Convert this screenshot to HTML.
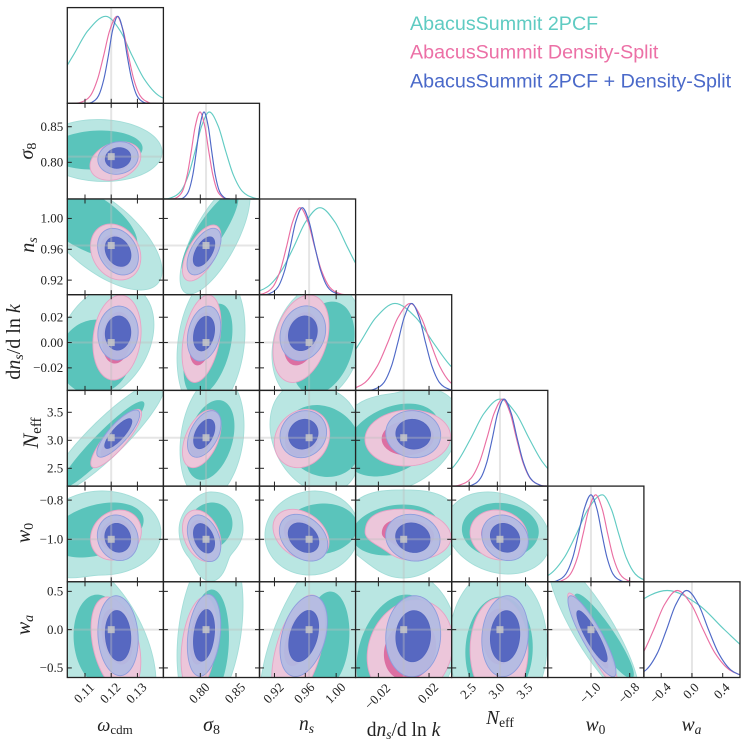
<!DOCTYPE html>
<html lang="en">
<head>
<meta charset="utf-8">
<title>AbacusSummit triangle plot</title>
<style>
html,body{margin:0;padding:0;background:#fff}
svg{display:block}
text{font-family:"Liberation Serif",serif;fill:#222}
.lg{font-family:"Liberation Sans",sans-serif;font-size:19.7px}
</style>
</head>
<body>
<svg id="chart" width="748" height="748" viewBox="0 0 748 748" xmlns="http://www.w3.org/2000/svg">
  <g id="panels"></g>
  <g id="labels">
    <text x="115" y="731" font-size="18.5" text-anchor="middle"><tspan font-style="italic">ω</tspan><tspan font-size="13" dy="3">cdm</tspan></text>
    <text x="211.5" y="731" font-size="20" text-anchor="middle"><tspan font-style="italic">σ</tspan><tspan font-size="14" dy="3">8</tspan></text>
    <text x="306.5" y="730" font-size="19.5" text-anchor="middle"><tspan font-style="italic">n</tspan><tspan font-size="13.5" font-style="italic" dy="3">s</tspan></text>
    <text x="403.5" y="736" font-size="19.5" text-anchor="middle">d<tspan font-style="italic">n</tspan><tspan font-size="13.5" font-style="italic" dy="3">s</tspan><tspan dy="-3">/d ln </tspan><tspan font-style="italic">k</tspan></text>
    <text x="500" y="724" font-size="19.5" text-anchor="middle"><tspan font-style="italic">N</tspan><tspan font-size="13.5" dy="3">eff</tspan></text>
    <text x="595.5" y="731" font-size="19.5" text-anchor="middle"><tspan font-style="italic">w</tspan><tspan font-size="13.5" dy="3">0</tspan></text>
    <text x="691.5" y="731" font-size="19.5" text-anchor="middle"><tspan font-style="italic">w</tspan><tspan font-size="13.5" font-style="italic" dy="3">a</tspan></text>
    <text transform="translate(33 151) rotate(-90)" font-size="20" text-anchor="middle"><tspan font-style="italic">σ</tspan><tspan font-size="14" dy="3">8</tspan></text>
    <text transform="translate(34 245) rotate(-90)" font-size="20" text-anchor="middle"><tspan font-style="italic">n</tspan><tspan font-size="14" font-style="italic" dy="3">s</tspan></text>
    <text transform="translate(20 342) rotate(-90)" font-size="20" text-anchor="middle">d<tspan font-style="italic">n</tspan><tspan font-size="14" font-style="italic" dy="3">s</tspan><tspan dy="-3">/d ln </tspan><tspan font-style="italic">k</tspan></text>
    <text transform="translate(38 433) rotate(-90)" font-size="22" text-anchor="middle"><tspan font-style="italic">N</tspan><tspan font-size="15" dy="3">eff</tspan></text>
    <text transform="translate(30 533) rotate(-90)" font-size="20" text-anchor="middle"><tspan font-style="italic">w</tspan><tspan font-size="14" dy="3">0</tspan></text>
    <text transform="translate(30 625) rotate(-90)" font-size="20" text-anchor="middle"><tspan font-style="italic">w</tspan><tspan font-size="14" font-style="italic" dy="3">a</tspan></text>
  </g>
  <g id="legend">
    <text class="lg" x="410" y="30" style="fill:#5fcbc2">AbacusSummit 2PCF</text>
    <text class="lg" x="410" y="58.5" style="fill:#ec70a6">AbacusSummit Density-Split</text>
    <text class="lg" x="410" y="87.5" style="fill:#4a69c9">AbacusSummit 2PCF + Density-Split</text>
  </g>
</svg>
<script>
/* ---------- parameter axes (data units) ---------- */
const paramKeys = ['omega-cdm','sigma8','ns','running','neff','w0','wa'];
const xDomains = [[0.10324,0.13992],[0.7483,0.8829],[0.9006,1.0252],[-0.038,0.0379],[2.19,3.895],[-1.223,-0.7266],[-0.625,0.625]];
const yDomains = [[0,1],[0.7485,0.8829],[0.9011,1.0252],[-0.0378,0.0378],[2.182,3.891],[-1.2168,-0.7286],[-0.625,0.625]];
const truthValues = [0.12,0.808,0.9649,0,3.046,-1,0];
const xTickValues = [[0.11,0.12,0.13],[0.80,0.85],[0.92,0.96,1.00],[-0.02,0.02],[2.5,3.0,3.5],[-1.0,-0.8],[-0.4,0.0,0.4]];
const xTickLabels = [['0.11','0.12','0.13'],['0.80','0.85'],['0.92','0.96','1.00'],['−0.02','0.02'],['2.5','3.0','3.5'],['−1.0','−0.8'],['−0.4','0.0','0.4']];
const yTickValues = [[],[0.80,0.85],[0.92,0.96,1.00],[-0.02,0,0.02],[2.5,3.0,3.5],[-1.0,-0.8],[-0.5,0.0,0.5]];
const yTickLabels = [[],['0.80','0.85'],['0.92','0.96','1.00'],['−0.02','0.00','0.02'],['2.5','3.0','3.5'],['−1.0','−0.8'],['−0.5','0.0','0.5']];

/* ---------- 1D marginals: sample locations + relative density ---------- */
const densityProfile = [0.011,0.089,0.278,0.546,0.835,1,0.835,0.546,0.278,0.089,0.011];
const omegaTealX = [0.0837,0.0928,0.0997,0.1054,0.1111,0.1179,0.1234,0.1280,0.1326,0.1381,0.1455];
const omegaPinkX = [0.1084,0.1121,0.1148,0.1171,0.1194,0.1222,0.1246,0.1266,0.1286,0.1310,0.1342];
const omegaBlueX = [0.1126,0.1152,0.1172,0.1189,0.1205,0.1225,0.1245,0.1261,0.1278,0.1298,0.1324];
const sigma8TealX = [0.7580,0.7726,0.7835,0.7926,0.8017,0.8126,0.8252,0.8357,0.8462,0.8588,0.8756];
const sigma8PinkX = [0.7660,0.7750,0.7817,0.7873,0.7929,0.7996,0.8063,0.8119,0.8175,0.8242,0.8332];
const sigma8BlueX = [0.7758,0.7836,0.7895,0.7944,0.7993,0.8052,0.8111,0.8160,0.8209,0.8268,0.8346];
const nsTealX = [0.8857,0.9106,0.9292,0.9448,0.9603,0.979,0.9984,1.0146,1.0308,1.0503,1.0762];
const nsPinkX = [0.9051,0.9179,0.9275,0.9355,0.9435,0.9531,0.9635,0.9722,0.9809,0.9914,1.0053];
const nsBlueX = [0.9132,0.9246,0.9332,0.9404,0.9475,0.9561,0.965,0.9725,0.9799,0.9889,1.0008];
const runningTealX = [-0.0828,-0.0626,-0.0474,-0.0347,-0.0221,-0.0069,0.0097,0.0235,0.0373,0.0538,0.0759];
const runningPinkX = [-0.0437,-0.0307,-0.0209,-0.0127,-0.0046,0.0052,0.0139,0.0212,0.0284,0.0371,0.0487];
const runningBlueX = [-0.0237,-0.0157,-0.0097,-0.0047,0.0003,0.0063,0.0123,0.0173,0.0223,0.0283,0.0363];
const neffTealX = [1.623,2.003,2.288,2.526,2.763,3.048,3.33,3.565,3.80,4.082,4.458];
const neffPinkX = [2.325,2.531,2.685,2.813,2.942,3.096,3.229,3.34,3.451,3.584,3.762];
const neffBlueX = [2.549,2.701,2.815,2.91,3.005,3.119,3.247,3.353,3.46,3.588,3.758];
const w0TealX = [-1.309,-1.211,-1.138,-1.076,-1.015,-0.9416,-0.895,-0.856,-0.818,-0.771,-0.709];
const w0PinkX = [-1.153,-1.106,-1.07,-1.041,-1.011,-0.9757,-0.9415,-0.913,-0.8845,-0.85,-0.805];
const w0BlueX = [-1.177,-1.13,-1.094,-1.065,-1.035,-1.0,-0.969,-0.943,-0.917,-0.886,-0.844];
const waTealX = [-2.48,-1.905,-1.473,-1.113,-0.753,-0.321,0.087,0.427,0.767,1.175,1.719];
const waPinkX = [-1.031,-0.807,-0.639,-0.499,-0.359,-0.191,-0.006,0.148,0.302,0.487,0.733];
const waBlueX = [-0.786,-0.595,-0.451,-0.332,-0.212,-0.069,0.087,0.217,0.347,0.503,0.711];
const marginalSamples = [
  [omegaTealX,omegaPinkX,omegaBlueX],[sigma8TealX,sigma8PinkX,sigma8BlueX],[nsTealX,nsPinkX,nsBlueX],
  [runningTealX,runningPinkX,runningBlueX],[neffTealX,neffPinkX,neffBlueX],[w0TealX,w0PinkX,w0BlueX],[waTealX,waPinkX,waBlueX]
];

/* ---------- 2D contours: [centreX, centreY, halfWidth, halfHeight, correlation, optional 8 lobes] in data units ---------- */
const tealOuter = [
 [[0.1161,0.8166,0.0233,0.0435,-0.05]],
 [[0.1157,0.9785,0.0237,0.0713,-0.65],[0.8206,0.9747,0.049,0.0726,0.72]],
 [[0.1176,0.0004,0.0187,0.0458,0.3],[0.815,-0.0012,0.0476,0.0552,0.2],[0.9752,-0.0004,0.0584,0.0474,0.2]],
 [[0.1184,3.05,0.0221,1.018,0.9],[0.8164,3.041,0.0448,1.107,0.2],[0.9726,3.041,0.0584,0.982,-0.25,[1,1.15,1,1,1,1,1,1]],[-0.0013,3.005,0.0458,0.929,0.35,[1,1,1,1.3,1,1,1,1]]],
 [[0.1165,-0.9679,0.0225,0.2143,0,[1,1,1,1,1,1.3,1,1]],[0.815,-0.9526,0.0448,0.1939,0,[1,1.05,1,0.95,1,1,1.35,0.9]],[0.9687,-0.9679,0.061,0.2143,0.05],[-0.0006,-0.973,0.0458,0.2245,0,[1,1.1,1,1.1,1,0.9,1,0.92]],[3.012,-0.9679,0.922,0.2092,-0.2]],
 [[0.1138,-0.135,0.0233,1.11,-0.5,[1,1,1,1,1,1,1,1.15]],[0.8136,-0.005,0.0462,1.11,0.3],[0.9856,-0.135,0.085,1.43,0.55,[1,1.15,1,1,1,1,1,1]],[-0.0069,-0.135,0.0489,0.94,0],[3.012,-0.2,0.869,0.979,0],[-0.9845,-0.005,0.2315,0.914,-0.86]]
];
const tealInner = [
 [[0.1142,0.8173,0.0176,0.0267,0.1]],
 [[0.11,0.998,0.0198,0.0493,-0.6],[0.8136,0.9824,0.0392,0.0519,0.85]],
 [[0.1138,-0.0114,0.0137,0.0292,0.05],[0.8108,-0.0059,0.0336,0.0363,0.45],[0.983,-0.0043,0.0402,0.0363,0.3]],
 [[0.1165,2.916,0.016,0.773,0.945],[0.8136,3.005,0.0336,0.705,0.35],[0.9817,2.9875,0.0493,0.634,-0.15],[-0.0092,3.005,0.0371,0.643,0.35]],
 [[0.1146,-0.9526,0.0176,0.1378,0.35],[0.8136,-0.9321,0.0308,0.1173,0.1],[0.9791,-0.9474,0.048,0.1276,0.1],[-0.0069,-0.9526,0.0339,0.1276,0.2],[3.053,-0.9551,0.674,0.1388,-0.05]],
 [[0.1157,-0.135,0.0099,0.587,-0.1],[0.8122,-0.2,0.0273,0.718,0.15],[0.9881,-0.135,0.0285,0.627,0.15],[-0.0069,-0.2657,0.03,0.718,0.3],[3.03,-0.2657,0.59,0.692,0.05],[-0.9328,-0.083,0.152,0.548,-0.915]]
];
const pinkOuter = [
 [[0.1216,0.8018,0.0097,0.027,0.25]],
 [[0.1217,0.9565,0.0096,0.0363,-0.2],[0.802,0.9552,0.027,0.0363,0.6]],
 [[0.1222,0.0039,0.0092,0.0335,0.15],[0.8017,0.003,0.0273,0.0345,0.35],[0.9544,0.003,0.0363,0.0345,0.3]],
 [[0.1219,3.032,0.0097,0.521,0.85],[0.802,3.027,0.027,0.516,0.45],[0.9557,3.032,0.0359,0.521,0.15],[0.0032,3.041,0.0338,0.5,0.05]],
 [[0.1218,-0.9781,0.0097,0.1276,0.15],[0.802,-0.9821,0.027,0.1316,-0.3],[0.9544,-0.9765,0.0363,0.1296,-0.3],[0.0034,-0.9765,0.0339,0.1296,-0.1,[1,1,1,1.05,1,0.85,1,1]],[3.027,-0.9781,0.511,0.1276,-0.1]],
 [[0.1218,-0.2,0.0095,0.627,-0.35],[0.7982,-0.2,0.0252,0.627,0.3],[0.951,-0.2657,0.0345,0.718,0.5],[0.005,-0.2657,0.0339,0.653,0.15],[3.03,-0.2657,0.514,0.679,0],[-0.99,-0.135,0.13,0.614,-0.93]]
];
const pinkInnerWa = [[0.1222,-0.09,0.0058,0.36,-0.3],[0.8005,-0.09,0.0148,0.36,0.3],[0.9525,-0.11,0.0195,0.36,0.5],[0.005,-0.2657,0.0203,0.392,0.15],[3.04,-0.09,0.3,0.36,0],[-0.99,-0.135,0.078,0.368,-0.93]];
const blueOuter = [
 [[0.1226,0.8061,0.0077,0.0229,0.1]],
 [[0.1226,0.9569,0.0078,0.0302,-0.25],[0.8052,0.957,0.0238,0.0302,0.55]],
 [[0.1226,0.0075,0.0077,0.0213,0.05],[0.8052,0.0071,0.0234,0.0217,0.25],[0.9568,0.0073,0.0296,0.0217,0.15]],
 [[0.1227,3.12,0.0082,0.421,0.82],[0.8055,3.113,0.0235,0.416,0.45],[0.9574,3.109,0.0302,0.42,0.1],[0.0075,3.109,0.0217,0.42,-0.05]],
 [[0.1225,-0.9923,0.0078,0.1163,-0.1],[0.8052,-0.9949,0.0234,0.1189,-0.35],[0.9577,-0.9918,0.0314,0.1194,-0.3],[0.0072,-0.9918,0.0215,0.1194,-0.1],[3.137,-0.9923,0.413,0.1163,-0.15]],
 [[0.1226,-0.079,0.0077,0.522,-0.1],[0.8052,-0.074,0.0234,0.535,0.25],[0.9579,-0.083,0.0307,0.529,0.35],[0.0075,-0.0855,0.0217,0.529,0.05],[3.137,-0.0855,0.413,0.529,0.1],[-0.9948,-0.086,0.124,0.529,-0.88]]
];
const pinkInnerRatio = 0.6;
const blueInnerRatio = 0.63;

/* ---------- layout ---------- */
const NS = 'http://www.w3.org/2000/svg';
const LEFT = 67.3, TOP = 7.6, STEP_X = 96.1, STEP_Y = 95.7;
const COLORS = ['#62cbc3','#ea6fa3','#4f69c7'];
const root = document.getElementById('panels');
const chart = document.getElementById('chart');

function make(tag, attrs, parent){
  const el = document.createElementNS(NS, tag);
  for (const k in attrs) el.setAttribute(k, attrs[k]);
  parent.appendChild(el);
  return el;
}
function xScale(col){
  const d = xDomains[col], x0 = LEFT + col * STEP_X;
  return v => x0 + (v - d[0]) / (d[1] - d[0]) * STEP_X;
}
function yScale(row){
  const d = yDomains[row], y0 = TOP + row * STEP_Y;
  return v => y0 + STEP_Y - (v - d[0]) / (d[1] - d[0]) * STEP_Y;
}
function densityScale(row){
  const y0 = TOP + row * STEP_Y;
  return v => y0 + STEP_Y - v / 1.1 * STEP_Y;
}
function lobe(radii, theta){
  if (!radii) return 1;
  const t = ((theta / (Math.PI / 4)) % 8 + 8) % 8, i = Math.floor(t), f = t - i;
  const s = (1 - Math.cos(f * Math.PI)) / 2;
  return radii[i] * (1 - s) + radii[(i + 1) % 8] * s;
}
function blobPath(b, scale, sx, sy){
  const rho = b[4], q = Math.sqrt(1 - rho * rho);
  let p = '';
  for (let i = 0; i < 96; i++){
    const th = i / 96 * 2 * Math.PI, r = lobe(b[5], th) * scale;
    const u = Math.cos(th) * r, v = Math.sin(th) * r;
    const px = sx(b[0] + b[2] * u), py = sy(b[1] + b[3] * (rho * u + q * v));
    p += (i ? 'L' : 'M') + px.toFixed(2) + ' ' + py.toFixed(2);
  }
  return p + 'Z';
}
function splinePath(xs, ys){
  const n = xs.length, m = [];
  for (let i = 0; i < n; i++){
    const a = Math.max(i - 1, 0), b = Math.min(i + 1, n - 1);
    m.push((ys[b] - ys[a]) / (xs[b] - xs[a]));
  }
  let p = 'M' + xs[0].toFixed(2) + ' ' + ys[0].toFixed(2);
  for (let i = 0; i < n - 1; i++){
    const h = xs[i + 1] - xs[i];
    p += 'C' + [xs[i] + h / 3, ys[i] + m[i] * h / 3, xs[i + 1] - h / 3, ys[i + 1] - m[i + 1] * h / 3, xs[i + 1], ys[i + 1]].map(n => n.toFixed(2)).join(' ');
  }
  return p;
}
const defs = make('defs', {}, root);

function clipFor(r, c){
  const id = 'clip-' + r + '-' + c;
  const cp = make('clipPath', {id: id}, defs);
  make('rect', {x: LEFT + c * STEP_X, y: TOP + r * STEP_Y, width: STEP_X, height: STEP_Y}, cp);
  return 'url(#' + id + ')';
}
function tickLine(parent, x1, y1, x2, y2, name){
  const t = make('line', {x1: x1, y1: y1, x2: x2, y2: y2, stroke: '#222', 'stroke-width': 1}, parent);
  
  
}
function drawFrame(g, r, c){
  const f = make('rect', {x: LEFT + c * STEP_X, y: TOP + r * STEP_Y, width: STEP_X, height: STEP_Y, fill: 'none', stroke: '#222', 'stroke-width': 1.3}, g);
  
  
}
function truthLine(g, x1, y1, x2, y2){
  const l = make('line', {x1: x1, y1: y1, x2: x2, y2: y2, stroke: '#bdbdbd', 'stroke-opacity': 0.4, 'stroke-width': 2}, g);
  
  
}

/* diagonal panels */
for (let i = 0; i < 7; i++){
  const g = make('g', {}, root);
  
  
  const inner = make('g', {'clip-path': clipFor(i, i)}, g);
  const sx = xScale(i), sy = densityScale(i);
  const tx = sx(truthValues[i]);
  truthLine(inner, tx, TOP + i * STEP_Y, tx, TOP + (i + 1) * STEP_Y);
  marginalSamples[i].forEach((xs, s) => {
    const px = xs.map(sx), py = densityProfile.map(sy);
    const last = px.length - 1;
    const allX = [px[0] - (px[1] - px[0]) * 0.9].concat(px, [px[last] + (px[last] - px[last - 1]) * 0.9]);
    const allY = [sy(0)].concat(py, [sy(0)]);
    const path = make('path', {d: splinePath(allX, allY), fill: 'none', stroke: COLORS[s], 'stroke-width': 1.15}, inner);
    
    
  });
  drawFrame(g, i, i);
  const bottom = TOP + (i + 1) * STEP_Y;
  xTickValues[i].forEach(v => tickLine(g, sx(v), bottom, sx(v), bottom - 4.5, 'x-tick'));
}

/* off-diagonal panels */
const layerStyles = [
  {fill:'#b9e6e2', stroke:'#a3ddd8', op:1},
  {fill:'#5ac4bb', stroke:'#5ac4bb', op:1},
  {fill:'#ecc6da', stroke:'#e6a3c6', op:1},
  {fill:'#dc6fa2', stroke:'#dc6fa2', op:1},
  {fill:'#b3bbe2', stroke:'#8d9ddd', op:0.94},
  {fill:'#5365bf', stroke:'#5365bf', op:0.96}
];
const layerNames = ['2pcf-outer-contour','2pcf-inner-contour','density-split-outer-contour','density-split-inner-contour','combined-outer-contour','combined-inner-contour'];
for (let r = 1; r < 7; r++){
  for (let c = 0; c < r; c++){
    const g = make('g', {}, root);
    
    
    const inner = make('g', {'clip-path': clipFor(r, c)}, g);
    const sx = xScale(c), sy = yScale(r);
    const to = tealOuter[r-1][c], ti = tealInner[r-1][c], po = pinkOuter[r-1][c], bo = blueOuter[r-1][c];
    const pinkInnerShape = r === 6 ? blobPath(pinkInnerWa[c],1,sx,sy) : blobPath(po,pinkInnerRatio,sx,sy);
    const paths = [blobPath(to,1,sx,sy), blobPath(ti,1,sx,sy), blobPath(po,1,sx,sy), pinkInnerShape, blobPath(bo,1,sx,sy), blobPath(bo,blueInnerRatio,sx,sy)];
    paths.forEach((d, k) => {
      const st = layerStyles[k];
      const path = make('path', {d: d, fill: st.fill, 'fill-opacity': st.op, stroke: st.stroke, 'stroke-width': 0.9}, inner);
      
      
    });
    const tx = sx(truthValues[c]), ty = sy(truthValues[r]);
    truthLine(inner, tx, TOP + r * STEP_Y, tx, TOP + (r + 1) * STEP_Y);
    truthLine(inner, LEFT + c * STEP_X, ty, LEFT + (c + 1) * STEP_X, ty);
    const sq = make('rect', {x: tx - 3.5, y: ty - 3.5, width: 7, height: 7, fill: '#c8c8c8', 'fill-opacity': 0.85}, inner);
    
    
    drawFrame(g, r, c);
    const top = TOP + r * STEP_Y, bot = top + STEP_Y, lft = LEFT + c * STEP_X, rgt = lft + STEP_X;
    xTickValues[c].forEach(v => {
      tickLine(g, sx(v), bot, sx(v), bot - 4.5, 'x-tick');
      tickLine(g, sx(v), top, sx(v), top + 4.5, 'x-tick-top');
    });
    yTickValues[r].forEach(v => {
      tickLine(g, lft, sy(v), lft + 4.5, sy(v), 'y-tick');
      tickLine(g, rgt, sy(v), rgt - 4.5, sy(v), 'y-tick-right');
    });
  }
}

/* tick labels */
const labelsGroup = document.getElementById('labels');
for (let r = 1; r < 7; r++){
  const sy = yScale(r);
  yTickValues[r].forEach((v, i) => {
    const t = make('text', {x: 63.3, y: sy(v) + 4.3, 'font-size': 13, 'text-anchor': 'end'}, labelsGroup);
    
    
    t.textContent = yTickLabels[r][i];
  });
}
for (let c = 0; c < 7; c++){
  const sx = xScale(c);
  xTickValues[c].forEach((v, i) => {
    const label = xTickLabels[c][i];
    const cy = label.length === 3 ? 691 : label.length === 4 ? 693 : 696.5;
    const px = sx(v) - 1;
    const t = make('text', {transform: 'translate(' + px.toFixed(1) + ' ' + cy + ') rotate(-45)', 'font-size': 13, 'text-anchor': 'middle', y: 4.3}, labelsGroup);
    
    
    t.textContent = label;
  });
}
</script>
</body>
</html>
